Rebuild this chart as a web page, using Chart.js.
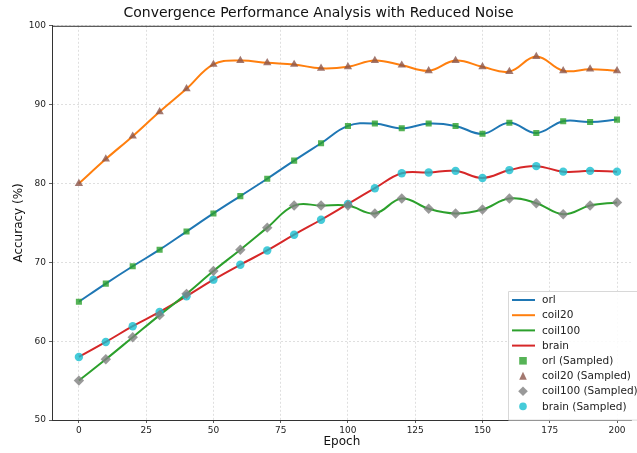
<!DOCTYPE html>
<html lang="en">
<head>
<meta charset="UTF-8">
<title>Convergence Performance Analysis with Reduced Noise</title>
<script src="https://cdn.jsdelivr.net/npm/chart.js"></script>
<style>
  html, body { margin: 0; padding: 0; background: #fff; }
  #wrap { width: 637px; height: 453px; }
</style>
</head>
<body>
<div id="wrap"><canvas id="chart"></canvas></div>
<script>
// data
const epochs = [0, 10, 20, 30, 40, 50, 60, 70, 80, 90, 100, 110, 120, 130, 140, 150, 160, 170, 180, 190, 200];
const orl = [65.0, 67.3, 69.5, 71.6, 73.9, 76.2, 78.4, 80.6, 82.9, 85.1, 87.3, 87.6, 87.0, 87.6, 87.3, 86.3, 87.7, 86.4, 87.9, 87.8, 88.1];
const coil20 = [80.0, 83.1, 86.0, 89.1, 92.0, 95.1, 95.6, 95.3, 95.1, 94.6, 94.8, 95.6, 95.0, 94.3, 95.6, 94.8, 94.2, 96.1, 94.3, 94.5, 94.3];
const coil100 = [55.0, 57.7, 60.5, 63.3, 66.0, 68.9, 71.6, 74.4, 77.2, 77.2, 77.2, 76.2, 78.1, 76.8, 76.2, 76.7, 78.1, 77.5, 76.1, 77.2, 77.6];
const brain = [58.0, 59.9, 61.9, 63.7, 65.7, 67.8, 69.7, 71.5, 73.5, 75.4, 77.4, 79.4, 81.3, 81.4, 81.6, 80.7, 81.7, 82.2, 81.5, 81.6, 81.5];

const xTicks = [0, 25, 50, 75, 100, 125, 150, 175, 200];
const yTicks = [50, 60, 70, 80, 90, 100];

const font = "'DejaVu Sans', sans-serif";

function pts(vals) {
  return vals.map((v, i) => ({ x: epochs[i], y: v }));
}

function lineSet(label, vals, color) {
  return {
    label: label,
    data: pts(vals),
    borderColor: color,
    backgroundColor: color,
    borderWidth: 2,
    pointRadius: 0,
    tension: 0.4,
    fill: false,
    order: 1
  };
}

function markSet(label, vals, color, style, r) {
  return {
    label: label,
    data: pts(vals),
    showLine: false,
    pointStyle: style,
    pointRadius: r,
    pointBackgroundColor: color,
    pointBorderWidth: 0,
    borderColor: color,
    backgroundColor: color,
    order: 0
  };
}

// legend drawn inside the plot, bottom right like matplotlib
const innerLegend = {
  id: "innerLegend",
  afterDraw(chart) {
    const ctx = chart.ctx;
    const sets = chart.data.datasets;
    const boxX = 508, boxY = 291, boxW = 140, rowH = 15.2;
    const boxH = rowH * sets.length + 7;
    ctx.save();
    ctx.fillStyle = "rgba(255,255,255,0.85)";
    ctx.strokeStyle = "#d8d8d8";
    ctx.lineWidth = 1;
    ctx.beginPath();
    ctx.rect(boxX + 0.5, boxY + 0.5, boxW, boxH);
    ctx.fill();
    ctx.stroke();
    ctx.font = "10.5px " + font;
    ctx.textBaseline = "middle";
    sets.forEach((ds, i) => {
      const cy = boxY + 9 + i * rowH;
      if (ds.showLine === false) {
        ctx.fillStyle = ds.pointBackgroundColor;
        const cx = 523, r = 3.8;
        ctx.beginPath();
        if (ds.pointStyle === "rect") {
          ctx.rect(cx - r, cy - r, 2 * r, 2 * r);
        } else if (ds.pointStyle === "triangle") {
          ctx.moveTo(cx, cy - r - 0.5);
          ctx.lineTo(cx + r, cy + r);
          ctx.lineTo(cx - r, cy + r);
          ctx.closePath();
        } else if (ds.pointStyle === "rectRot") {
          ctx.moveTo(cx, cy - r - 1);
          ctx.lineTo(cx + r + 1, cy);
          ctx.lineTo(cx, cy + r + 1);
          ctx.lineTo(cx - r - 1, cy);
          ctx.closePath();
        } else {
          ctx.arc(cx, cy, r, 0, Math.PI * 2);
        }
        ctx.fill();
      } else {
        ctx.strokeStyle = ds.borderColor;
        ctx.lineWidth = 2;
        ctx.beginPath();
        ctx.moveTo(512, cy);
        ctx.lineTo(535, cy);
        ctx.stroke();
      }
      ctx.fillStyle = "#222";
      ctx.fillText(ds.label, 542, cy + 0.5);
    });
    ctx.restore();
  }
};

// top spine of the axes box
const topSpine = {
  id: "topSpine",
  afterDraw(chart) {
    const a = chart.chartArea;
    const ctx = chart.ctx;
    ctx.save();
    ctx.strokeStyle = "#333";
    ctx.lineWidth = 1;
    ctx.beginPath();
    ctx.moveTo(a.left, a.top + 0.5);
    ctx.lineTo(a.right, a.top + 0.5);
    ctx.stroke();
    ctx.restore();
  }
};

new Chart(document.getElementById("chart"), {
  type: "line",
  data: {
    datasets: [
      lineSet("orl", orl, "#1f77b4"),
      lineSet("coil20", coil20, "#ff7f0e"),
      lineSet("coil100", coil100, "#2ca02c"),
      lineSet("brain", brain, "#d62728"),
      markSet("orl (Sampled)", orl, "rgba(44,160,44,0.8)", "rect", 4.3),
      markSet("coil20 (Sampled)", coil20, "rgba(140,86,75,0.8)", "triangle", 4.8),
      markSet("coil100 (Sampled)", coil100, "rgba(127,127,127,0.8)", "rectRot", 5.2),
      markSet("brain (Sampled)", brain, "rgba(23,190,207,0.8)", "circle", 4.2)
    ]
  },
  options: {
    responsive: true,
    maintainAspectRatio: false,
    animation: false,
    devicePixelRatio: 1,
    layout: { padding: 0 },
    plugins: {
      legend: { display: false },
      tooltip: { enabled: false },
      title: {
        display: true,
        text: "Convergence Performance Analysis with Reduced Noise",
        color: "#111",
        font: { family: font, size: 14, weight: "normal" },
        padding: { top: 5, bottom: 4 }
      }
    },
    scales: {
      x: {
        type: "linear",
        min: -10,
        max: 205.5,
        afterBuildTicks: s => { s.ticks = xTicks.map(v => ({ value: v })); },
        afterFit: s => { s.height = 33; },
        ticks: {
          color: "#222",
          font: { family: font, size: 9 },
          padding: 2,
          maxRotation: 0
        },
        grid: {
          color: "rgba(0,0,0,0.16)",
          tickColor: "#333",
          tickLength: 3,
          lineWidth: 0.8
        },
        border: { display: true, color: "#333", width: 1, dash: [2, 2] },
        title: {
          display: true,
          text: "Epoch",
          color: "#111",
          font: { family: font, size: 12 },
          padding: { top: 0, bottom: 4 }
        }
      },
      y: {
        min: 50,
        max: 100,
        afterBuildTicks: s => { s.ticks = yTicks.map(v => ({ value: v })); },
        afterFit: s => { s.width = 52; },
        ticks: {
          color: "#222",
          font: { family: font, size: 9 },
          padding: 3
        },
        grid: {
          color: "rgba(0,0,0,0.16)",
          tickColor: "#333",
          tickLength: 3,
          lineWidth: 0.8
        },
        border: { display: true, color: "#333", width: 1, dash: [2, 2] },
        title: {
          display: true,
          text: "Accuracy (%)",
          color: "#111",
          font: { family: font, size: 12 },
          padding: { top: 12, bottom: 0 }
        }
      }
    }
  },
  plugins: [innerLegend, topSpine]
});
</script>
</body>
</html>
